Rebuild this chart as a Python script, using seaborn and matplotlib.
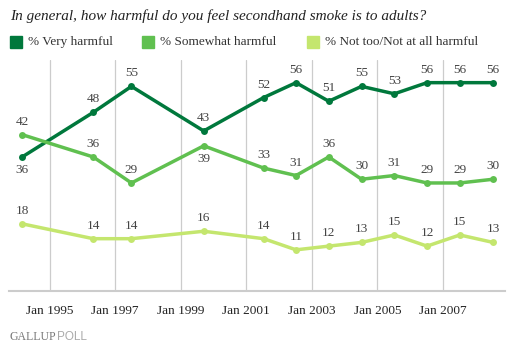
import pandas as pd
import seaborn as sns
import matplotlib.pyplot as plt
import matplotlib.dates as mdates

# ---------------------------------
# Data
# ---------------------------------
dates = ['1994-03-01', '1996-05-01', '1997-07-01', '1999-09-15', '2001-07-15',
         '2002-07-10', '2003-07-10', '2004-07-10', '2005-07-10', '2006-07-10',
         '2007-07-10', '2008-07-15']
very = [36, 48, 55, 43, 52, 56, 51, 55, 53, 56, 56, 56]
somewhat = [42, 36, 29, 39, 33, 31, 36, 30, 31, 29, 29, 30]
not_at_all = [18, 14, 14, 16, 14, 11, 12, 13, 15, 12, 15, 13]
series = ['% Very harmful', '% Somewhat harmful', '% Not too/Not at all harmful']
tick_years = [1995, 1997, 1999, 2001, 2003, 2005, 2007]

colors = ['#00783c', '#60c050', '#c4e66e']
below = {0: [0], 1: [3], 2: []}   # indexes whose label goes under the point

# Long format
df = pd.DataFrame({'date': pd.to_datetime(dates)})
long = pd.concat([
    pd.DataFrame({'date': df.date, 'value': v, 'series': s})
    for v, s in zip([very, somewhat, not_at_all], series)])

# ---------------------------------
# Plot
# ---------------------------------
sns.set_theme(style="white")
plt.rcParams['font.family'] = ['Liberation Serif', 'DejaVu Serif']

f = plt.figure(figsize=(5.13, 3.52), dpi=100)
ax = f.add_axes([9 / 513, 1 - 290.7 / 352, 496 / 513, 230.7 / 352])

sns.lineplot(data=long, x='date', y='value', hue='series', palette=colors,
             marker='o', markersize=5, markeredgewidth=0, linewidth=2.5,
             legend=False, ax=ax)

ax.set_ylim(0, 62.1)
ax.set_xlim(pd.Timestamp('1993-10-05'), pd.Timestamp('2008-11-25'))
ax.set_xticks([pd.Timestamp(f'{y}-01-01') for y in tick_years])
ax.xaxis.set_major_formatter(mdates.DateFormatter('Jan %Y'))
ax.tick_params(axis='x', length=0, labelsize=9.5, colors='#222222', pad=10)
ax.set_yticks([])
ax.set(xlabel='', ylabel='')
ax.grid(axis='x', color='#cccccc', linewidth=0.9)
for side in ['left', 'right', 'top']:
    ax.spines[side].set_visible(False)
ax.spines['bottom'].set_color('#cccccc')
ax.spines['bottom'].set_linewidth(1.5)

# Value labels
for k, vals in enumerate([very, somewhat, not_at_all]):
    for i, (d, v) in enumerate(zip(df.date, vals)):
        off = -14 if i in below[k] else 5
        ax.annotate(str(v), (d, v), xytext=(0, off), textcoords='offset points',
                    ha='center', va='bottom', fontsize=9.5, color='#444444')

# Title and legend
f.text(10 / 513, 1 - 16 / 352, 'In general, how harmful do you feel secondhand smoke is to adults?',
       fontsize=11, style='italic', color='#222222', va='center')
legend_x = [10, 142, 307]
for x, s, c in zip(legend_x, series, colors):
    f.patches.append(plt.Rectangle((x / 513, 1 - 48 / 352), 12 / 513, 12 / 352,
                                   transform=f.transFigure, color=c, figure=f))
    f.text((x + 18) / 513, 1 - 42 / 352, s, fontsize=9.5, color='#333333', va='center')

f.text(10 / 513, 1 - 337 / 352, 'GALLUP', fontsize=8.5, color='#777777', va='center')
f.text(57 / 513, 1 - 337 / 352, 'POLL', fontsize=8.5, color='#aaaaaa', va='center',
       family=['Liberation Sans', 'DejaVu Sans'])

plt.savefig('out.png', dpi=100)
